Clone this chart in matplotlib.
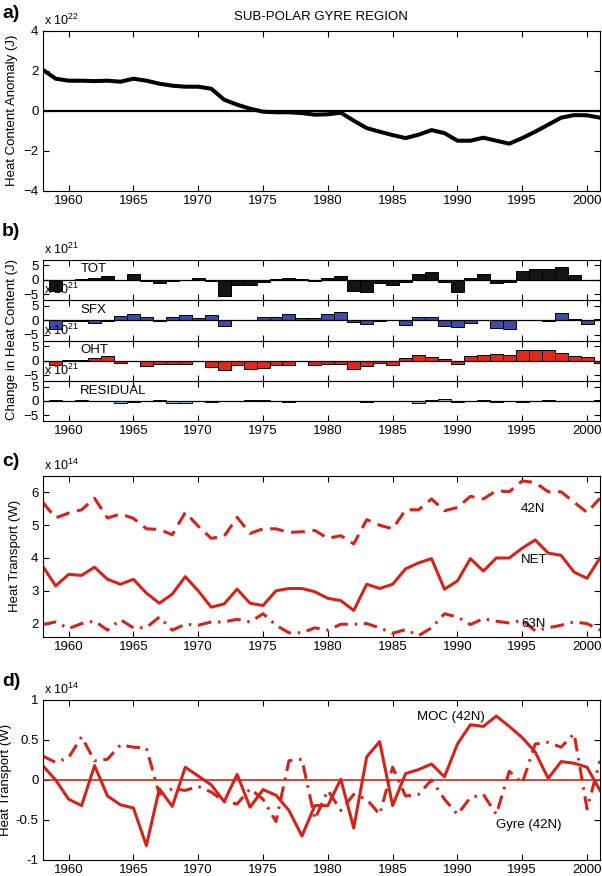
import matplotlib
matplotlib.use('Agg')
import matplotlib.pyplot as plt
import numpy as np

plt.rcParams['font.family'] = ['Liberation Sans', 'DejaVu Sans']
plt.rcParams['mathtext.fontset'] = 'custom'
plt.rcParams['mathtext.rm'] = 'Liberation Sans'
plt.rcParams['mathtext.it'] = 'Liberation Sans'

# ---------------- data ----------------
years = np.arange(1958, 2002)
heat_content = [2.05, 1.6, 1.5, 1.5, 1.48, 1.5, 1.45, 1.6, 1.5, 1.35, 1.25, 1.2, 1.2, 1.1,
                0.55, 0.3, 0.1, -0.05, -0.08, -0.08, -0.12, -0.2, -0.18, -0.1, -0.5, -0.87,
                -1.05, -1.22, -1.37, -1.2, -0.97, -1.12, -1.5, -1.5, -1.35, -1.5, -1.65, -1.37,
                -1.05, -0.7, -0.35, -0.22, -0.23, -0.35]

bar_years = np.arange(1959, 2002)
tot = [-4.0, -0.2, 0.4, 0.5, 1.3, -0.1, 2.0, -0.5, -1.0, -0.4, -0.1, 0.6, -0.5, -5.5, -1.8,
       -1.9, -0.8, 0.2, 0.5, 0.4, -0.5, 0.8, 1.3, -3.8, -4.3, -1.1, -1.9, -0.7, 2.2, 2.9,
       -0.8, -4.2, 0.6, 2.0, -1.2, -0.7, 3.2, 3.7, 3.7, 4.5, 1.8, 0.1, -0.2]
sfx = [-3.1, -0.3, -0.2, -0.9, -0.2, 1.4, 2.1, 1.2, -0.2, 1.2, 1.8, 0.9, 1.9, -2.0, 0.0,
       0.2, 1.1, 1.3, 2.3, 0.9, 0.9, 2.1, 3.0, -0.6, -1.2, -0.1, 0.0, -1.5, 1.0, 1.3,
       -1.8, -2.4, -1.0, 0.0, -2.8, -3.0, 0.0, 0.0, -0.3, 2.5, 0.3, -1.2, 0.3]
oht = [-1.5, 0.2, 0.4, 1.1, 1.7, -0.7, 0.0, -1.8, -1.2, -1.1, -1.1, 0.0, -2.1, -3.2, -1.4,
       -2.7, -2.6, -1.5, -1.3, -0.2, -1.3, -1.1, -1.1, -3.0, -1.9, -0.8, -1.3, 1.1, 2.2, 1.4,
       0.8, -1.1, 1.7, 2.1, 2.4, 2.1, 3.7, 3.9, 3.9, 2.7, 1.7, 1.4, -0.6]
residual = [0.4, 0.1, 0.3, 0.0, -0.2, -0.6, -0.3, 0.0, 0.2, -0.6, -0.8, 0.0, -0.3, -0.2, -0.1,
            0.4, 0.2, 0.1, -0.4, -0.1, 0.0, 0.0, -0.2, 0.1, -0.4, 0.0, -0.2, 0.0, -0.7, 0.3,
            0.5, -0.3, 0.0, 0.2, -0.4, 0.0, -0.4, 0.1, 0.4, -0.1, 0.0, 0.1, 0.2]
b_names = ['TOT', 'SFX', 'OHT', 'RESIDUAL']

ht_42n = [5.7, 5.22, 5.37, 5.47, 5.82, 5.22, 5.34, 5.21, 4.89, 4.87, 4.71, 5.39, 4.97, 4.6,
          4.66, 5.24, 4.75, 4.89, 4.89, 4.78, 4.8, 4.84, 4.6, 4.68, 4.43, 5.17, 5.0, 4.89,
          5.47, 5.47, 5.8, 5.44, 5.54, 5.88, 5.8, 6.05, 6.02, 6.35, 6.3, 6.02, 6.02, 5.7,
          5.39, 5.82]
ht_net = [3.75, 3.15, 3.5, 3.47, 3.72, 3.35, 3.2, 3.35, 2.93, 2.62, 2.9, 3.43, 3.0, 2.5,
          2.6, 3.05, 2.62, 2.55, 3.0, 3.07, 3.07, 2.97, 2.77, 2.7, 2.4, 3.2, 3.07, 3.2,
          3.67, 3.85, 3.98, 3.05, 3.3, 3.98, 3.6, 4.0, 4.0, 4.3, 4.55, 4.15, 4.08, 3.57,
          3.38, 4.0]
ht_63n = [1.97, 2.05, 1.85, 2.0, 2.08, 1.8, 2.12, 1.87, 1.88, 2.2, 1.8, 1.98, 1.95, 2.05,
          2.05, 2.13, 2.05, 2.3, 1.95, 1.72, 1.72, 1.87, 1.8, 1.98, 1.98, 2.0, 1.87, 1.7,
          1.82, 1.63, 1.87, 2.3, 2.2, 1.97, 2.15, 2.07, 2.02, 2.1, 1.78, 1.87, 1.95, 2.05,
          2.0, 1.8]

moc_42n = [0.18, 0.0, -0.24, -0.32, 0.18, -0.2, -0.31, -0.35, -0.82, -0.11, -0.33, 0.16,
           0.05, -0.06, -0.27, 0.07, -0.34, -0.12, -0.19, -0.38, -0.7, -0.32, -0.32, 0.01,
           -0.6, 0.29, 0.48, -0.32, 0.08, 0.13, 0.2, 0.04, 0.45, 0.69, 0.67, 0.8, 0.67, 0.53,
           0.35, 0.02, 0.23, 0.21, 0.16, -0.13]
gyre_42n = [0.3, 0.22, 0.28, 0.54, 0.24, 0.26, 0.44, 0.41, 0.4, -0.18, -0.11, -0.13, -0.08,
            -0.15, -0.27, -0.3, -0.11, -0.24, -0.52, 0.24, 0.26, -0.49, -0.13, -0.38, -0.18,
            -0.24, -0.43, 0.16, -0.2, -0.18, 0.0, -0.24, -0.43, -0.22, -0.18, -0.43, 0.11,
            -0.04, 0.45, 0.47, 0.41, 0.58, -0.36, 0.24]

xticks = [1960, 1965, 1970, 1975, 1980, 1985, 1990, 1995, 2000]

# ---------------- layout helpers ----------------
W, H = 602.0, 876.0
L, R = 42.7, 600.0
FS = 9.5
RED = '#d3241c'


def pos(t, b):
    return [L / W, 1 - b / H, (R - L) / W, (b - t) / H]


def style(ax, labels=True):
    ax.set_xlim(1958, 2001)
    ax.set_xticks(xticks)
    ax.tick_params(direction='in', top=True, right=True, length=4, width=0.8,
                   labelsize=FS, pad=3)
    if not labels:
        ax.tick_params(labelbottom=False)
    for s in ax.spines.values():
        s.set_linewidth(0.8)


def expo(ax, e):
    ax.annotate(r'x 10$^{%d}$' % e, xy=(0, 1), xycoords='axes fraction',
                xytext=(1, 2), textcoords='offset points', fontsize=FS - 0.5,
                ha='left', va='bottom')


fig = plt.figure(figsize=(W / 100, H / 100), dpi=100)

# ---------------- panel a ----------------
ax_a = fig.add_axes(pos(30.7, 190.7))
ax_a.plot(years, heat_content, color='black', lw=2.9, solid_joinstyle='round')
ax_a.axhline(0, color='black', lw=1.6)
ax_a.set_ylim(-4, 4)
ax_a.set_yticks([-4, -2, 0, 2, 4])
style(ax_a)
expo(ax_a, 22)
ax_a.set_title('SUB-POLAR GYRE REGION', fontsize=FS, pad=8)
fig.text(12 / W, 1 - 110 / H, 'Heat Content Anomaly (J)', rotation=90,
         ha='center', va='center', fontsize=FS)

# ---------------- panel b ----------------
tops = [259.7, 300.0, 340.7, 381.0, 420.7]
b_vals = [tot, sfx, oht, residual]
b_cols = ['#141414', '#3d4aa6', '#e0281c', '#86d3e3']
for i in range(4):
    ax = fig.add_axes(pos(tops[i], tops[i + 1]))
    ax.bar(bar_years, b_vals[i], width=1.0, color=b_cols[i], edgecolor='black',
           linewidth=0.7, zorder=2)
    ax.axhline(0, color='black', lw=0.9, zorder=3)
    ax.set_ylim(-7, 7)
    ax.set_yticks([-5, 0, 5])
    style(ax, labels=(i == 3))
    ax.patch.set_alpha(0)
    expo(ax, 21)
    ax.text(1960.9, 3.6, b_names[i], fontsize=FS, ha='left', va='center')
fig.text(12 / W, 1 - 340 / H, 'Change in Heat Content (J)', rotation=90,
         ha='center', va='center', fontsize=FS)

# ---------------- panel c ----------------
ax_c = fig.add_axes(pos(476, 636.7))
ax_c.plot(years, ht_42n, color=RED, lw=2.2, dashes=(4.5, 2.5))
ax_c.plot(years, ht_net, color=RED, lw=2.2)
ax_c.plot(years, ht_63n, color=RED, lw=2.2, dashes=(4.5, 2.2, 0.8, 2.2))
ax_c.set_ylim(1.6, 6.5)
ax_c.set_yticks([2, 3, 4, 5, 6])
style(ax_c)
expo(ax_c, 14)
ax_c.text(1994.9, 5.5, '42N', fontsize=FS, ha='left', va='center')
ax_c.text(1994.9, 3.95, 'NET', fontsize=FS, ha='left', va='center')
ax_c.text(1994.9, 2.0, '63N', fontsize=FS, ha='left', va='center')
fig.text(15 / W, 1 - 556 / H, 'Heat Transport (W)', rotation=90,
         ha='center', va='center', fontsize=FS)

# ---------------- panel d ----------------
ax_d = fig.add_axes(pos(700, 860))
ax_d.axhline(0, color=RED, lw=1.2)
ax_d.plot(years, moc_42n, color=RED, lw=2.2)
ax_d.plot(years, gyre_42n, color=RED, lw=2.2, dashes=(4.5, 2.2, 0.8, 2.2))
ax_d.set_ylim(-1, 1)
ax_d.set_yticks([-1, -0.5, 0, 0.5, 1])
ax_d.set_yticklabels(['-1', '-0.5', '0', '0.5', '1'])
style(ax_d)
expo(ax_d, 14)
ax_d.text(1986.9, 0.79, 'MOC (42N)', fontsize=FS, ha='left', va='center')
ax_d.text(1993.0, -0.56, 'Gyre (42N)', fontsize=FS, ha='left', va='center')
fig.text(6 / W, 1 - 780 / H, 'Heat Transport (W)', rotation=90,
         ha='center', va='center', fontsize=FS)

# panel letters
for lab, y in [('a)', 13), ('b)', 231), ('c)', 462), ('d)', 682)]:
    fig.text(2 / W, 1 - y / H, lab, fontsize=14, fontweight='bold',
             ha='left', va='center')

fig.savefig('out.png', dpi=100)
